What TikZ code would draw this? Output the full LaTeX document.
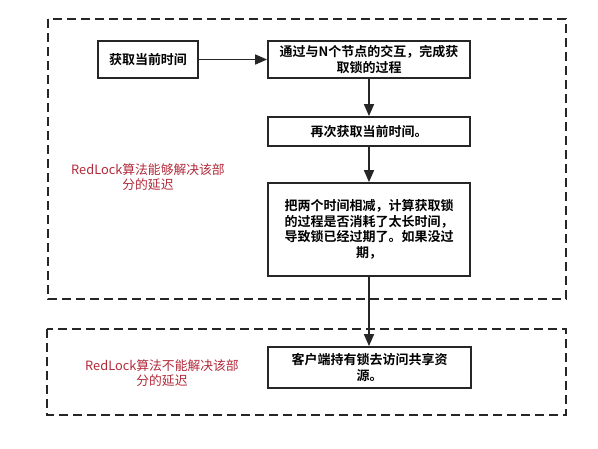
\documentclass[tikz,border=0pt]{standalone}
\usepackage{fontspec}
\setmainfont{Noto Sans CJK SC}[BoldFont={Noto Sans CJK SC Bold}]
\usepackage{xcolor}
\usetikzlibrary{arrows.meta,positioning}

\definecolor{lockred}{RGB}{178,42,58}
\definecolor{edgegray}{RGB}{38,38,38}

\begin{document}
\begin{tikzpicture}[
  x=1pt, y=-1pt,
  every node/.style={font=\fontsize{13}{16}\selectfont},
  stepbox/.style={draw=edgegray, line width=1.8pt, fill=white, align=center,
                  inner sep=0pt, minimum width=202pt,
                  font=\bfseries\fontsize{13}{15.5}\selectfont},
  zone/.style   ={draw=edgegray, line width=1.8pt, dash pattern=on 9pt off 5pt},
  note/.style   ={text=lockred, align=center,
                  font=\fontsize{12.8}{15}\selectfont},
  arr/.style    ={-{Triangle[length=12pt, width=10pt]}, line width=1.6pt,
                  draw=edgegray, fill=edgegray},
]

%% ---- Canvas -------------------------------------------------------
\fill[white] (0,0) rectangle (598,448);
\useasboundingbox (0,0) rectangle (598,448);

%% ---- Dashed zones -------------------------------------------------
\draw[zone] (48,19)  rectangle (566,299);
\draw[zone] (47,329) rectangle (566,415);

%% ---- Steps --------------------------------------------------------
\node[stepbox, minimum width=100pt, minimum height=37pt]
      (T0)   at (148,59.5)  {获取当前时间};
\node[stepbox, minimum height=37pt]
      (LOCK) at (369,59.5)  {通过与N个节点的交互，完成获\\取锁的过程};
\node[stepbox, minimum height=29pt]
      (T1)   at (369,131.5) {再次获取当前时间。};
\node[stepbox, minimum height=93pt]
      (DIFF) at (369,229.5) {把两个时间相减，计算获取锁\\的过程是否消耗了太长时间，\\导致锁已经过期了。如果没过\\期，};
\node[stepbox, minimum width=203pt, minimum height=41pt]
      (USE)  at (369.5,367.5) {客户端持有锁去访问共享资\\源。};

%% ---- Flow ---------------------------------------------------------
\draw[arr] (T0.east)   -- (LOCK.west);
\draw[arr] (LOCK.south) -- (T1.north);
\draw[arr] (T1.south)  -- (DIFF.north);
\draw[arr] (DIFF.south) -- (USE.north -| DIFF.south);

%% ---- Zone notes ---------------------------------------------------
\node[note] (N1) at (148,177) {RedLock算法能够解决该部\\分的延迟};
\node[note] (N2) at (162,373) {RedLock算法不能解决该部\\分的延迟};

\end{tikzpicture}
\end{document}
